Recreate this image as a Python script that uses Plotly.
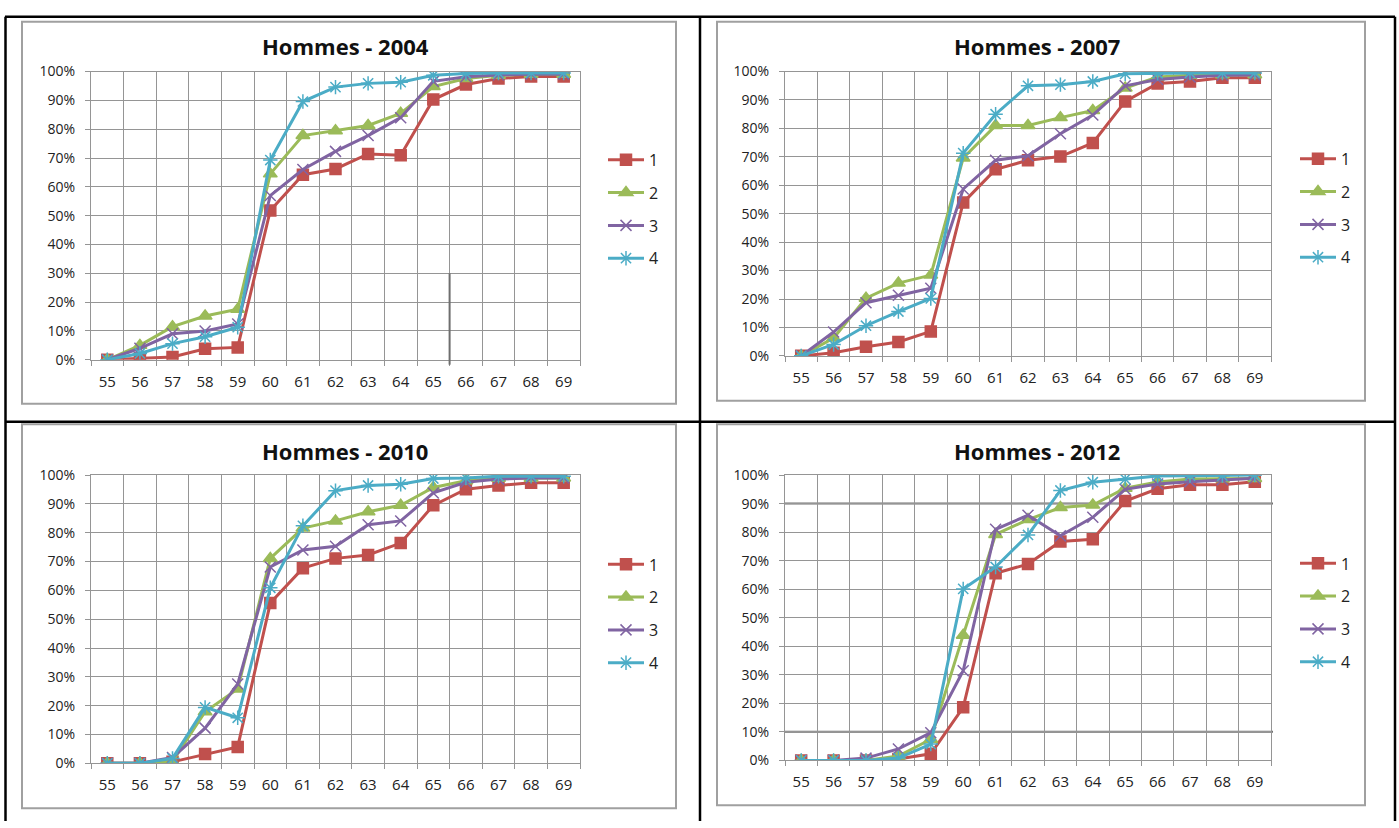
import plotly.graph_objects as go

W, H = 1399, 828

ages = [55, 56, 57, 58, 59, 60, 61, 62, 63, 64, 65, 66, 67, 68, 69]
age_labels = [str(a) for a in ages]
series_names = ["1", "2", "3", "4"]
titles = ["Hommes - 2004", "Hommes - 2007", "Hommes - 2010", "Hommes - 2012"]

# values in percent
y2004_s1 = [0, 0.5, 1, 3.8, 4.3, 51.8, 64.2, 66.2, 71.4, 71.0, 90.3, 95.5, 97.6, 98.3, 98.3]
y2004_s2 = [0, 5, 11.5, 15.2, 17.5, 64.5, 77.8, 79.5, 81.3, 85.5, 94.8, 97.6, 98.7, 99.1, 99.1]
y2004_s3 = [0, 4, 9, 10, 12.4, 57, 66, 72.3, 77.8, 84, 96.6, 98.2, 98.8, 99.1, 99.1]
y2004_s4 = [0, 2.2, 5.6, 8, 11.3, 69.3, 89.6, 94.6, 95.9, 96.3, 98.7, 99.3, 99.5, 99.5, 99.5]

y2007_s1 = [0, 1.1, 3.2, 4.9, 8.6, 53.9, 65.6, 68.8, 70.1, 74.9, 89.5, 95.8, 96.5, 97.8, 97.8]
y2007_s2 = [0, 6.3, 20.3, 25.6, 28.4, 69.6, 81, 81, 83.8, 86.3, 94.2, 98.1, 98.7, 98.9, 98.9]
y2007_s3 = [0, 8.4, 18.7, 21.3, 23.8, 58.7, 68.8, 70.4, 78.1, 84.7, 95, 97.2, 98.1, 98.7, 98.8]
y2007_s4 = [0, 4, 10.6, 15.6, 20.2, 71.3, 85, 95, 95.4, 96.5, 99.2, 99.4, 99.5, 99.5, 99.5]

y2010_s1 = [0, 0, 0.5, 3.2, 5.7, 55.6, 67.7, 71.1, 72.3, 76.4, 89.5, 95.1, 96.4, 97.3, 97.3]
y2010_s2 = [0, 0, 0.6, 17.9, 25.8, 71.1, 81.6, 84.1, 87.3, 89.5, 95.7, 98, 98.9, 98.9, 99]
y2010_s3 = [0, 0, 2, 12.2, 27.5, 68.1, 74, 75.3, 82.8, 84.1, 93.8, 97.5, 98.6, 99, 99]
y2010_s4 = [0, 0, 1.7, 19.4, 15.8, 60.9, 82.4, 94.6, 96.4, 96.8, 98.8, 99, 99.6, 99.6, 99.6]

y2012_s1 = [0, 0, 0, 0.5, 2.3, 18.6, 65.6, 68.8, 76.7, 77.5, 90.9, 95.2, 96.6, 96.6, 97.7]
y2012_s2 = [0, 0, 0, 1.5, 7.4, 43.9, 79.2, 84.4, 88.6, 89.5, 95.4, 97.6, 98.6, 98.7, 98.8]
y2012_s3 = [0, 0, 0.8, 4, 9.7, 31.4, 81, 85.9, 78.7, 85.2, 95, 96.9, 97.7, 98.4, 98.9]
y2012_s4 = [0, 0, 0, 0.8, 5.7, 60.1, 67.8, 79, 94.6, 97.5, 98.6, 99.7, 99.8, 99.8, 100]

charts = [
    [y2004_s1, y2004_s2, y2004_s3, y2004_s4],
    [y2007_s1, y2007_s2, y2007_s3, y2007_s4],
    [y2010_s1, y2010_s2, y2010_s3, y2010_s4],
    [y2012_s1, y2012_s2, y2012_s3, y2012_s4],
]

colors = ["#C0504D", "#9BBB59", "#8064A2", "#4BACC6"]
symbols = ["square", "triangle-up", "x-thin-open", "asterisk-open"]
msizes = [11, 12, 11, 12]

FONT = "Open Sans"
GRID = "#959595"

def px_x(x):
    return x / W

def px_y(y):
    return 1 - y / H

# plot areas in pixel coords: (left, right, top(100%), bottom(0%))
areas = [
    (91, 580, 63, 358),
    (785, 1271, 63, 354),
    (91, 580, 476, 771),
    (785, 1271, 476, 768),
]
title_pos = [(345, 37), (1037, 37), (345, 451), (1037, 451)]
legend_pos = [(603, 136), (1295, 135), (603, 550), (1295, 549)]
frames = [(22, 676, 12, 403), (717, 1365, 12, 400), (22, 676, 424, 817), (717, 1365, 424, 814)]

fig = go.Figure()
layout = dict(
    width=W, height=H, autosize=False,
    margin=dict(l=0, r=0, t=0, b=0),
    paper_bgcolor="white", plot_bgcolor="white",
    font=dict(family=FONT, color="#222222"),
    showlegend=True,
)
annotations = []
shapes = []

for i, (vals, (l, r, t, b)) in enumerate(zip(charts, areas)):
    n = i + 1
    sfx = "" if n == 1 else str(n)
    lg = "legend" if n == 1 else f"legend{n}"
    for j, v in enumerate(vals):
        fig.add_trace(go.Scatter(
            x=ages, y=[p / 100 for p in v], name=series_names[j],
            mode="lines+markers",
            line=dict(color=colors[j], width=3),
            marker=dict(symbol=symbols[j], size=msizes[j], color=colors[j],
                        line=dict(color=colors[j], width=1.5)),
            xaxis=f"x{sfx}", yaxis=f"y{sfx}", legend=lg,
            legendgroup=f"g{n}_{j}",
        ))
    layout[f"xaxis{sfx}"] = dict(
        domain=[px_x(l), px_x(r)], anchor=f"y{sfx}",
        range=[54.5, 69.5], tickmode="array", tickvals=ages, ticktext=age_labels,
        showgrid=False, ticks="outside", ticklen=8, tickcolor="rgba(0,0,0,0)",
        showline=True, linecolor=GRID, linewidth=1, mirror=True,
        tickfont=dict(size=15, family=FONT, color="#222222"),
        minor=dict(tick0=54.5, dtick=1, showgrid=True, gridcolor=GRID, gridwidth=1,
                   ticks="outside", ticklen=5, tickcolor=GRID),
        fixedrange=True,
    )
    layout[f"yaxis{sfx}"] = dict(
        domain=[px_y(b), px_y(t)], anchor=f"x{sfx}",
        range=[0, 1], tickmode="linear", tick0=0, dtick=0.1, tickformat=".0%",
        showgrid=True, gridcolor=GRID, gridwidth=1,
        ticks="outside", ticklen=5, tickcolor=GRID, ticklabelstandoff=7,
        showline=True, linecolor=GRID, linewidth=1, mirror=True,
        zeroline=False,
        tickfont=dict(size=14, family=FONT, color="#222222"),
        fixedrange=True,
    )
    lx, ly = legend_pos[i]
    layout[lg] = dict(
        x=px_x(lx), y=px_y(ly), xanchor="left", yanchor="top",
        bgcolor="rgba(0,0,0,0)", tracegroupgap=9,
        font=dict(size=16, family=FONT, color="#222222"),
        itemwidth=36,
    )
    tx, ty = title_pos[i]
    annotations.append(dict(
        x=px_x(tx), y=px_y(ty), xref="paper", yref="paper",
        text=f"<b>{titles[i]}</b>", showarrow=False,
        font=dict(size=22, family=FONT, color="#111111"),
        xanchor="center", yanchor="middle",
    ))
    fl, fr, ft, fb = frames[i]
    shapes.append(dict(type="rect", xref="paper", yref="paper",
                       x0=px_x(fl), x1=px_x(fr), y0=px_y(fb), y1=px_y(ft),
                       line=dict(color="#a0a0a0", width=2), layer="below"))

# darker artefact lines visible in the reference
shapes.append(dict(type="line", xref="x", yref="y domain", x0=65.5, x1=65.5,
                   y0=-0.017, y1=0.3, line=dict(color="#6e6e6e", width=2)))
l4, r4 = areas[3][0], areas[3][1]
for yv in (0.1, 0.9):
    shapes.append(dict(type="line", xref="paper", yref="y4", x0=px_x(l4), x1=px_x(r4 + 2),
                       y0=yv, y1=yv, line=dict(color="#707070", width=2), layer="below"))

# table borders (black)
def hline(y, x0, x1):
    return dict(type="line", xref="paper", yref="paper", x0=px_x(x0), x1=px_x(x1),
                y0=px_y(y), y1=px_y(y), line=dict(color="black", width=2.5))

def vline(x, y0, y1):
    return dict(type="line", xref="paper", yref="paper", x0=px_x(x), x1=px_x(x),
                y0=px_y(y0), y1=px_y(y1), line=dict(color="black", width=2.5))

shapes += [hline(7, 5, 1395), hline(421.5, 5, 1395),
           vline(5.5, 7, 830), vline(700, 7, 830), vline(1395, 7, 830)]

layout["annotations"] = annotations
layout["shapes"] = shapes
fig.update_layout(**layout)
fig.write_html("out.html", config={"displayModeBar": False},
               post_script="document.body.style.margin='0';document.body.style.overflow='hidden';")
